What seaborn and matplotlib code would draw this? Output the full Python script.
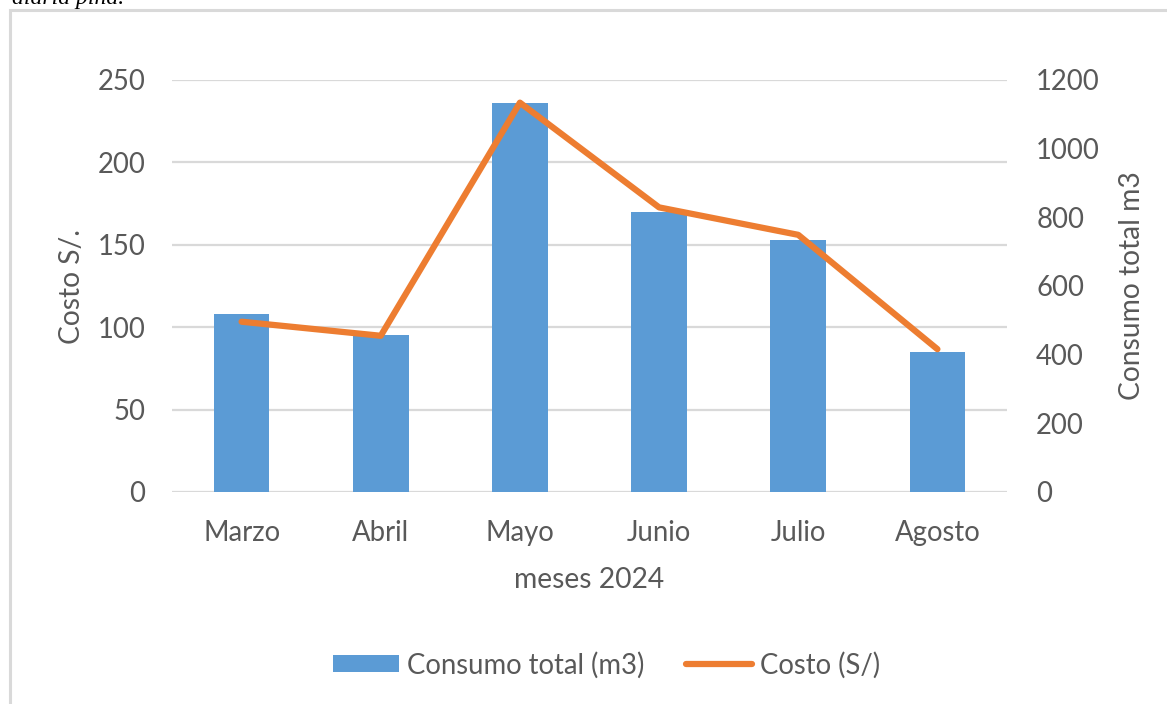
import matplotlib
matplotlib.use("Agg")
import matplotlib.pyplot as plt
from matplotlib.patches import Rectangle, Patch
from matplotlib.lines import Line2D
import numpy as np
import pandas as pd
import seaborn as sns

# Datos mensuales
meses = ["Marzo", "Abril", "Mayo", "Junio", "Julio", "Agosto"]
consumo_total = [108, 95, 236, 170, 153, 85]     # eje izquierdo (barras)
costo = [496, 455, 1134, 829, 749, 416]          # eje derecho (línea)
ticks_izq = [0, 50, 100, 150, 200, 250]
ticks_der = [0, 200, 400, 600, 800, 1000, 1200]

AZUL = "#5B9BD5"
NARANJA = "#ED7D31"
GRIS_TXT = "#595959"
GRIS_GRID = "#D9D9D9"

sns.set_theme(style="white")
plt.rcParams["font.family"] = ["Lato", "DejaVu Sans"]

FS = 19.8
W, H = 1167, 704
fig = plt.figure(figsize=(W / 100, H / 100), dpi=100)
fig.patch.set_facecolor("white")

ax = fig.add_axes([172 / W, 1 - 492 / H, (1007 - 172) / W, (492 - 80) / H])
df = pd.DataFrame({"mes": meses, "consumo": consumo_total})
sns.barplot(data=df, x="mes", y="consumo", ax=ax, color=AZUL,
            width=0.4, saturation=1, edgecolor="none")
ax.set_xlim(-0.5, len(meses) - 0.5)
ax.set_ylim(ticks_izq[0], ticks_izq[-1])
ax.set_yticks(ticks_izq)
ax.yaxis.grid(True, color=GRIS_GRID, linewidth=1.6)
ax.xaxis.grid(False)
ax.set_axisbelow(True)
for s in ax.spines.values():
    s.set_visible(False)
ax.tick_params(axis="both", length=0, labelsize=FS, colors=GRIS_TXT)
ax.tick_params(axis="y", pad=19)
ax.tick_params(axis="x", pad=20)
ax.set_xlabel("meses 2024", fontsize=FS + 0.5, color=GRIS_TXT, labelpad=15)
ax.set_ylabel("Costo S/.", fontsize=FS + 0.5, color=GRIS_TXT, labelpad=9)

ax2 = ax.twinx()
sns.lineplot(x=np.arange(len(meses)), y=costo, ax=ax2, color=NARANJA,
             linewidth=4.5, solid_capstyle="round", solid_joinstyle="round")
ax2.set_ylim(ticks_der[0], ticks_der[-1])
ax2.set_yticks(ticks_der)
ax2.grid(False)
for s in ax2.spines.values():
    s.set_visible(False)
ax2.tick_params(axis="y", length=0, labelsize=FS, colors=GRIS_TXT, pad=21)
ax2.set_ylabel("Consumo total m3", fontsize=FS + 0.5, color=GRIS_TXT, labelpad=14)

handles = [Patch(facecolor=AZUL, edgecolor="none"),
           Line2D([0], [0], color=NARANJA, linewidth=4.5, solid_capstyle="round")]
fig.legend(handles, ["Consumo total (m3)", "Costo (S/)"], loc="center",
           bbox_to_anchor=(0.52, 1 - 665 / H), ncol=2, frameon=False,
           fontsize=FS, labelcolor=GRIS_TXT, handlelength=2.4,
           handleheight=0.6, handletextpad=0.3, columnspacing=1.5)

# Marco del área del gráfico
fig.add_artist(Rectangle((9.5 / W, -0.05), 1.2, 1 - 9.5 / H + 0.05,
                         transform=fig.transFigure, fill=False,
                         edgecolor=GRIS_GRID, linewidth=2.2))

# Texto del documento que asoma por arriba
fig.text(12 / W, 1 - 4 / H, "diaria piña.", fontsize=17, style="italic",
         family="Liberation Serif", color="black", va="baseline")

fig.savefig("out.png", dpi=100, facecolor="white")
